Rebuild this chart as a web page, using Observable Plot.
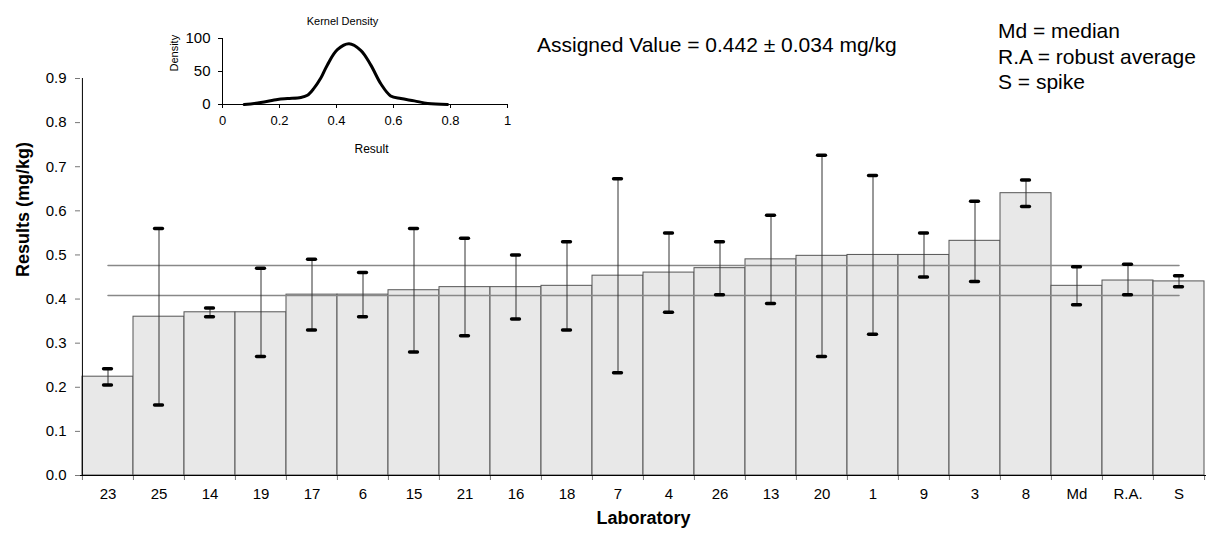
<!DOCTYPE html>
<html><head><meta charset="utf-8">
<script src="https://cdn.jsdelivr.net/npm/d3@7"></script>
<script src="https://cdn.jsdelivr.net/npm/@observablehq/plot@0.6"></script>
<style>
body{margin:0;background:#fff;font-family:"Liberation Sans",Arial,sans-serif;}
#wrap{position:relative;width:1210px;height:538px;}
#main,#inset{position:absolute;top:0;}
#main{left:0;}
#inset{left:160px;}
.note{position:absolute;color:#000;white-space:nowrap;line-height:1;}
</style></head><body>
<div id="wrap">
<div id="main"></div>
<div id="inset"></div>
<div class="note" style="left:537px;top:34px;font-size:21px">Assigned Value = 0.442 ± 0.034 mg/kg</div>
<div class="note" style="left:998px;top:18px;font-size:21px;line-height:25.5px">Md = median<br>R.A = robust average<br>S = spike</div>
</div>
<script>
// ---- data ----
const labs    = ["23","25","14","19","17","6","15","21","16","18","7","4","26","13","20","1","9","3","8","Md","R.A.","S"];
const results = [0.224,0.36,0.37,0.37,0.41,0.41,0.42,0.427,0.427,0.43,0.453,0.46,0.47,0.49,0.498,0.50,0.50,0.532,0.64,0.43,0.442,0.44];
const lower   = [0.205,0.16,0.36,0.27,0.33,0.36,0.28,0.317,0.355,0.33,0.233,0.37,0.41,0.39,0.27,0.32,0.45,0.44,0.61,0.387,0.41,0.428];
const upper   = [0.242,0.56,0.38,0.47,0.49,0.46,0.56,0.538,0.50,0.53,0.673,0.55,0.53,0.59,0.726,0.68,0.55,0.622,0.67,0.473,0.479,0.453];
const assignedValue = 0.442;
const assignedUncertainty = 0.034;
const yTicks = [0,0.1,0.2,0.3,0.4,0.5,0.6,0.7,0.8,0.9];

const densityX = [0.076,0.134,0.193,0.228,0.275,0.298,0.32,0.345,0.368,0.403,0.444,0.485,0.52,0.556,0.59,0.626,0.673,0.72,0.79];
const densityY = [0,3,7.6,9,10.6,14,24,40,60,83,92,82,60,31,13,9,5.5,1.5,0];
const insetXTicks = [0,0.2,0.4,0.6,0.8,1];
const insetYTicks = [0,50,100];

// ---- tables ----
const rows = labs.map((lab,i)=>({lab, result:results[i], lo:lower[i], hi:upper[i]}));
const refRows = [
  {lab:labs[0], v:assignedValue+assignedUncertainty, k:"hi"},
  {lab:labs[labs.length-1], v:assignedValue+assignedUncertainty, k:"hi"},
  {lab:labs[0], v:assignedValue-assignedUncertainty, k:"lo"},
  {lab:labs[labs.length-1], v:assignedValue-assignedUncertainty, k:"lo"}
];
const density = densityX.map((x,i)=>({x, y:densityY[i]}));

const font = '"Liberation Sans", Arial, sans-serif';
const W = 1210, H = 538, ML = 80, MR = 4, MT = 78, MB = 63;
const bw = (W-ML-MR)/labs.length;

const main = Plot.plot({
  width:W, height:H, marginLeft:ML, marginRight:MR, marginTop:MT, marginBottom:MB,
  style:{fontFamily:font, background:"transparent", color:"#000"},
  x:{type:"band", domain:labs, padding:0},
  y:{domain:[0,0.9]},
  marks:[
    Plot.barY(rows,{x:"lab", y:"result", fill:"#e8e8e8", stroke:"#555", strokeWidth:1}),
    Plot.line(refRows,{x:"lab", y:"v", z:"k", stroke:"#888", strokeWidth:1.5}),
    Plot.ruleX(rows,{x:"lab", y1:"lo", y2:"hi", stroke:"#333", strokeWidth:1}),
    Plot.tickY(rows,{x:"lab", y:"lo", stroke:"#000", strokeWidth:3.5, strokeLinecap:"round", insetLeft:(bw-8)/2, insetRight:(bw-8)/2}),
    Plot.tickY(rows,{x:"lab", y:"hi", stroke:"#000", strokeWidth:3.5, strokeLinecap:"round", insetLeft:(bw-8)/2, insetRight:(bw-8)/2}),
    Plot.axisX({tickSize:5, tickFormat:()=>"", dx:-bw/2, stroke:"#777", label:null}),
    Plot.axisX([labs[labs.length-1]],{tickSize:5, tickFormat:()=>"", dx:bw/2, stroke:"#777", label:null}),
    Plot.axisX({tickSize:0, tickPadding:13, fontSize:15, label:null}),
    Plot.axisY({ticks:yTicks, tickFormat:d3.format(".1f"), tickSize:5, tickPadding:9, fontSize:15, stroke:"#777", label:null}),
    Plot.ruleY([0],{stroke:"#000"}),
    Plot.ruleX([labs[0]],{dx:-bw/2, stroke:"#000"}),
    Plot.text(["Results (mg/kg)"],{frameAnchor:"left", dx:-57.5, rotate:-90, fontSize:18, fontWeight:"bold"}),
    Plot.text(["Laboratory"],{frameAnchor:"bottom", dy:48, fontSize:18, fontWeight:"bold"})
  ]
});
document.getElementById("main").appendChild(main);

const inset = Plot.plot({
  width:360, height:170, marginLeft:62, marginRight:13, marginTop:38, marginBottom:66,
  style:{fontFamily:font, background:"transparent", color:"#000"},
  x:{domain:[0,1]},
  y:{domain:[0,100]},
  marks:[
    Plot.axisX({ticks:insetXTicks, tickFormat:d=>String(d), tickSize:4, tickPadding:7, fontSize:13, label:null}),
    Plot.axisY({ticks:insetYTicks, tickSize:4, tickPadding:8, fontSize:15, label:null}),
    Plot.ruleY([0],{stroke:"#000"}),
    Plot.ruleX([0],{stroke:"#000"}),
    Plot.line(density,{x:"x", y:"y", curve:"catmull-rom", stroke:"#000", strokeWidth:3}),
    Plot.text(["Kernel Density"],{frameAnchor:"top", dx:-22.5, dy:-21, fontSize:11}),
    Plot.text(["Density"],{frameAnchor:"left", dx:-48, rotate:-90, fontSize:11}),
    Plot.text(["Result"],{frameAnchor:"bottom", dx:6.5, dy:48, fontSize:12})
  ]
});
document.getElementById("inset").appendChild(inset);
</script>
</body></html>
